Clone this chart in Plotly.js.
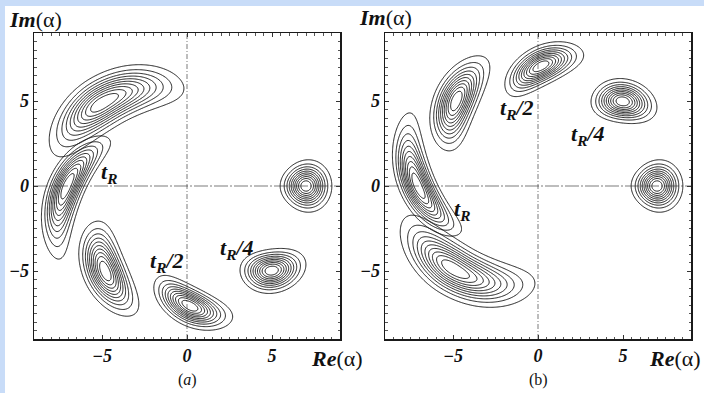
<!DOCTYPE html>
<html><head><meta charset="utf-8">
<script src="https://cdn.plot.ly/plotly-3.0.1.min.js"></script>
<style>
html,body{margin:0;padding:0;background:#c8dcf8;width:704px;height:393px;overflow:hidden}
#sheet{position:absolute;left:5px;top:6px;width:699px;height:387px;background:#fff}
#chart{position:absolute;left:0;top:0;width:704px;height:393px}
</style></head><body><div id="sheet"></div><div id="chart"></div>
<script>
// ---- blob parameters (units of Re/Im alpha) ----
// order: initial, t_R/4, t_R/2, 3t_R/4, t_R, 5t_R/4
const radiusA    = [7.0, 7.04, 7.06, 6.96, 7.06, 6.97];
const angleA     = [0, -45, -88.5, -133.6, 180, 135.8];   // panel (a) centre angle, deg
const angleB     = [0, 45, 88.5, 133.6, 180, -135.8];     // panel (b) centre angle, deg
const tiltDeg    = [0, 37, 29, 23.5, 24, 14];             // long axis vs tangential direction
const halfLenOut = [1.52, 1.97, 2.45, 2.85, 4.0, 3.9];    // outer contour half length, outward end
const halfLenIn  = [1.52, 1.97, 2.75, 3.3, 4.2, 5.5];     // outer contour half length, inward end
const halfWidth  = [1.52, 1.30, 1.15, 1.32, 1.1, 1.6];    // outer contour half width

const tickVals = [-5, 0, 5];
const labelHtml = ['<b><i>t</i></b><sub><b><i>R</i></b></sub>',
                   '<b><i>t</i></b><sub><b><i>R</i></b></sub><b><i>/2</i></b>',
                   '<b><i>t</i></b><sub><b><i>R</i></b></sub><b><i>/4</i></b>'];
const labelXA = [-4.6, -1.2, 2.95];
const labelYA = [0.75, -4.45, -3.7];
const labelXB = [-4.45, -1.24, 2.94];
const labelYB = [-1.4, 4.55, 3.0];

// ---- sampling grid ----
const grid = [];
for (let g = -9; g <= 9.0001; g += 0.05) grid.push(+g.toFixed(3));

function field(i, x, y, r0, th0deg, sense) {
  const r = Math.hypot(x, y);
  let dth = Math.atan2(y, x) - th0deg * Math.PI / 180;
  dth = Math.atan2(Math.sin(dth), Math.cos(dth));
  const u = r - r0, v = sense * r0 * dth;
  const ph = tiltDeg[i] * Math.PI / 180;
  const p = u * Math.sin(ph) + v * Math.cos(ph);
  const q = u * Math.cos(ph) - v * Math.sin(ph);
  const A = p >= 0 ? halfLenOut[i] : halfLenIn[i];
  const B = halfWidth[i];
  return Math.exp(-Math.log(11) * ((p / A) ** 2 + (q / B) ** 2));
}

const traces = [];
function addPanel(angles, sense, xa, ya) {
  for (let i = 0; i < angles.length; i++) {
    const z = grid.map(y => grid.map(x => field(i, x, y, radiusA[i], angles[i], sense)));
    traces.push({
      type: 'contour', x: grid, y: grid, z: z, xaxis: xa, yaxis: ya,
      showscale: false, hoverinfo: 'skip', autocontour: false,
      contours: {coloring: 'none', start: 1 / 11, end: 10 / 11 + 1e-6, size: 1 / 11},
      line: {color: '#1a1a1a', width: 1, smoothing: 1}
    });
  }
}
addPanel(angleA, 1, 'x', 'y');
addPanel(angleB, -1, 'x2', 'y2');

const tickFont = {family: 'Liberation Serif', size: 18, weight: 'bold', style: 'italic', color: '#111'};
function axisStyle(extra) {
  return Object.assign({
    range: [-9, 9], showgrid: false, zeroline: false, showline: true, linecolor: '#1a1a1a', linewidth: 1.5,
    mirror: 'ticks', ticks: 'inside', ticklen: 4, tickcolor: '#333', tickwidth: 1,
    tickmode: 'array', tickvals: tickVals, tickfont: tickFont,
    minor: {ticks: 'inside', ticklen: 2.5, tickcolor: '#555', dtick: 0.5, tick0: 0, showgrid: false}
  }, extra);
}
const yDom = [54 / 393, 360 / 393];

const shapes = [];
[['x', 'y'], ['x2', 'y2']].forEach(([xa, ya]) => {
  shapes.push({type: 'line', xref: xa, yref: ya, x0: 0, x1: 0, y0: -9, y1: 9,
               line: {color: '#444', width: 0.7, dash: '5px,2px,1px,2px'}});
  shapes.push({type: 'line', xref: xa, yref: ya, x0: -9, x1: 9, y0: 0, y1: 0,
               line: {color: '#444', width: 0.7, dash: '14px,2px,2px,2px'}});
});

const annFont = {family: 'Liberation Serif', size: 22, color: '#111'};
const annotations = [];
labelHtml.forEach((t, k) => {
  annotations.push({text: t, x: labelXA[k], y: labelYA[k], xref: 'x', yref: 'y', showarrow: false, font: annFont});
  annotations.push({text: t, x: labelXB[k], y: labelYB[k], xref: 'x2', yref: 'y2', showarrow: false, font: annFont});
});
const titleFont = {family: 'Liberation Serif', size: 22, color: '#111'};
annotations.push(
  {text: '<b><i>Im</i></b>(α)', x: 7 / 704, y: (393 - 19) / 393, xref: 'paper', yref: 'paper', xanchor: 'left', yanchor: 'middle', showarrow: false, font: titleFont},
  {text: '<b><i>Im</i></b>(α)', x: 357 / 704, y: (393 - 17) / 393, xref: 'paper', yref: 'paper', xanchor: 'left', yanchor: 'middle', showarrow: false, font: titleFont},
  {text: '<b><i>Re</i></b>(α)', x: 309 / 704, y: (393 - 358) / 393, xref: 'paper', yref: 'paper', xanchor: 'left', yanchor: 'middle', showarrow: false, font: titleFont},
  {text: '<b><i>Re</i></b>(α)', x: 703 / 704, y: (393 - 358) / 393, xref: 'paper', yref: 'paper', xanchor: 'right', yanchor: 'middle', showarrow: false, font: titleFont},
  {text: '(<i>a</i>)', x: 187 / 704, y: (393 - 380) / 393, xref: 'paper', yref: 'paper', xanchor: 'center', yanchor: 'middle', showarrow: false, font: {family: 'Liberation Serif', size: 16, color: '#111'}},
  {text: '(b)', x: 538 / 704, y: (393 - 380) / 393, xref: 'paper', yref: 'paper', xanchor: 'center', yanchor: 'middle', showarrow: false, font: {family: 'Liberation Serif', size: 16, color: '#111'}}
);

const layout = {
  width: 704, height: 393, margin: {l: 0, r: 0, t: 0, b: 0, pad: 0},
  paper_bgcolor: 'rgba(0,0,0,0)', plot_bgcolor: 'rgba(0,0,0,0)', showlegend: false,
  xaxis: axisStyle({domain: [34 / 704, 340 / 704], anchor: 'y'}),
  yaxis: axisStyle({domain: yDom, anchor: 'x'}),
  xaxis2: axisStyle({domain: [385 / 704, 691 / 704], anchor: 'y2'}),
  yaxis2: axisStyle({domain: yDom, anchor: 'x2'}),
  shapes: shapes, annotations: annotations
};
Plotly.newPlot('chart', traces, layout, {staticPlot: true, displayModeBar: false});
</script></body></html>
